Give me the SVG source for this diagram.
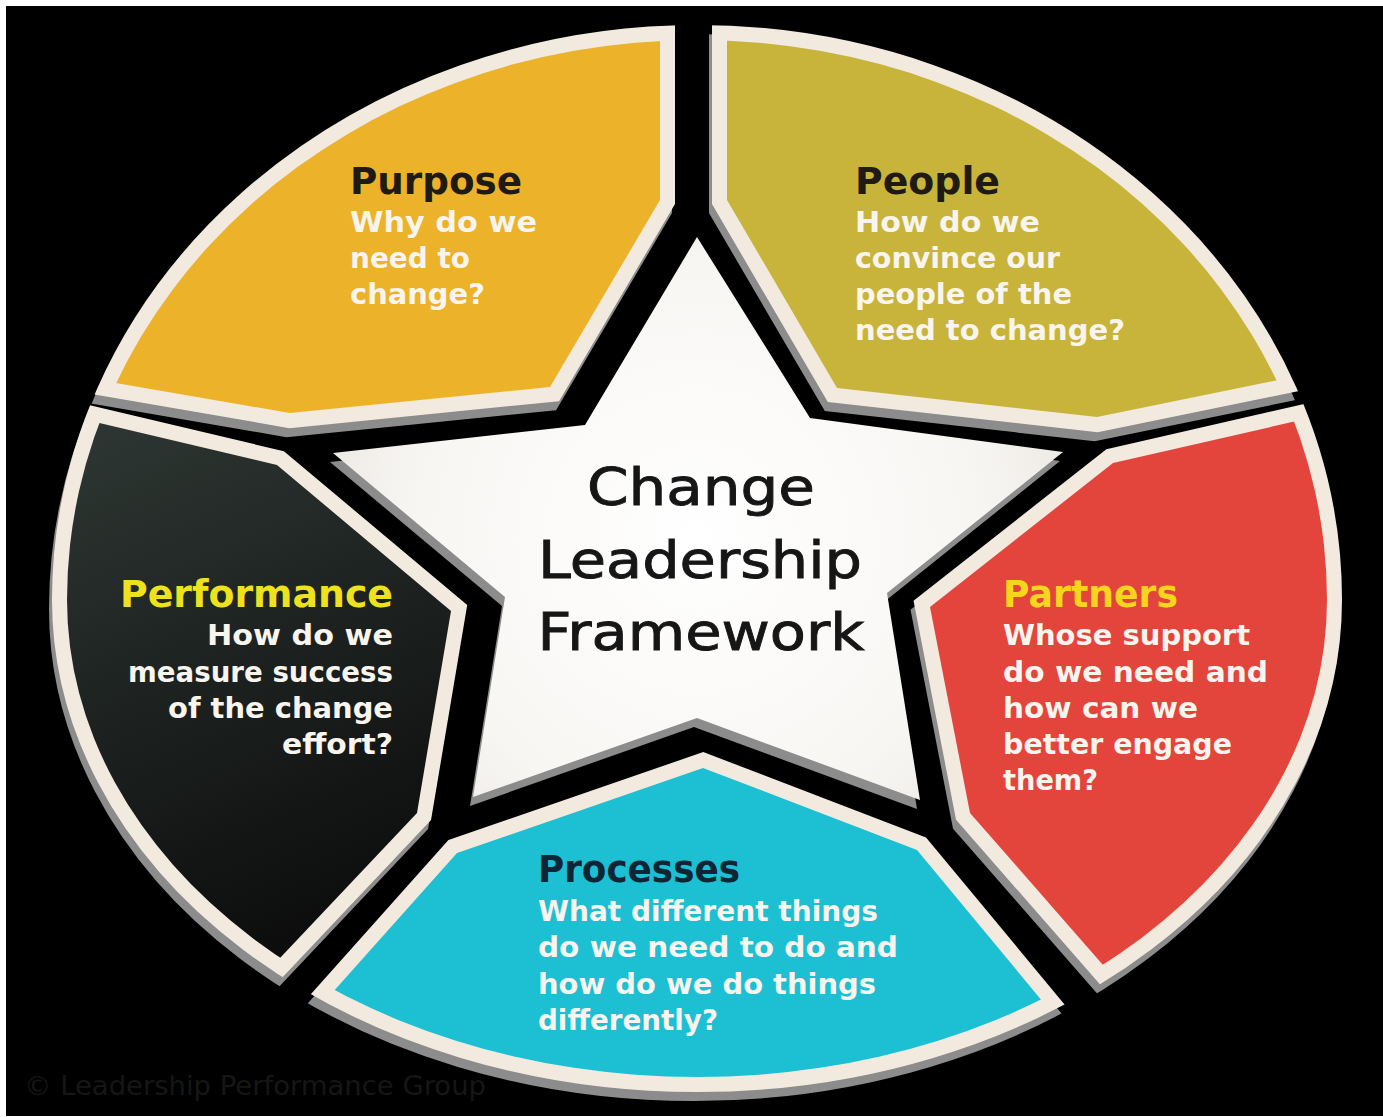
<svg xmlns="http://www.w3.org/2000/svg" width="1383" height="1117" viewBox="0 0 1383 1117">
<defs>
<style>
.t{font-family:"DejaVu Sans","Liberation Sans",Arial,sans-serif;font-weight:bold}
.body{font-size:29px;fill:#F8F4EE}
.title{font-size:37px}
.ctr{font-family:"DejaVu Sans","Liberation Sans",Arial,sans-serif;font-size:52px;fill:#161616;stroke:#161616;stroke-width:0.9;text-anchor:middle}
.cream{fill:#F2EADF;stroke:#F2EADF;stroke-width:30}
.shadow{fill:#8C8C8C;stroke:#8C8C8C;stroke-width:30}
.mb{fill:#fff;stroke:#fff;stroke-width:30;stroke-linejoin:miter}
.mf{fill:#fff}
</style>
<path id="E" d="M67,600 A630,560 0 0 1 1327,600 A630,477 0 0 1 67,600 Z"/>
<radialGradient id="gStar" gradientUnits="userSpaceOnUse" cx="697" cy="540" r="400">
<stop offset="0" stop-color="#FFFFFF"/><stop offset="0.7" stop-color="#F8F6F3"/><stop offset="1" stop-color="#EBE8E3"/>
</radialGradient>
<linearGradient id="gPerf" gradientUnits="userSpaceOnUse" x1="150" y1="420" x2="380" y2="930">
<stop offset="0" stop-color="#2C3531"/><stop offset="1" stop-color="#0B0B0B"/>
</linearGradient>
<mask id="mPurB" maskUnits="userSpaceOnUse" x="-300" y="-300" width="2200" height="1900"><polygon class="mb" points="-70,-100 660,-100 660,200 550,387 290,413 -70,351"/></mask>
<mask id="mPurF" maskUnits="userSpaceOnUse" x="-300" y="-300" width="2200" height="1900"><polygon class="mf" points="-70,-100 660,-100 660,200 550,387 290,413 -70,351"/></mask>
<mask id="mPeoB" maskUnits="userSpaceOnUse" x="-300" y="-300" width="2200" height="1900"><polygon class="mb" points="727,-100 1459,-100 1459,343 1097,417 837,388 727,200"/></mask>
<mask id="mPeoF" maskUnits="userSpaceOnUse" x="-300" y="-300" width="2200" height="1900"><polygon class="mf" points="727,-100 1459,-100 1459,343 1097,417 837,388 727,200"/></mask>
<mask id="mParB" maskUnits="userSpaceOnUse" x="-300" y="-300" width="2200" height="1900"><polygon class="mb" points="1113,463 1463,383 1600,383 1600,1300 1396,1300 970,813 930,607"/></mask>
<mask id="mParF" maskUnits="userSpaceOnUse" x="-300" y="-300" width="2200" height="1900"><polygon class="mf" points="1113,463 1463,383 1600,383 1600,1300 1396,1300 970,813 930,607"/></mask>
<mask id="mProB" maskUnits="userSpaceOnUse" x="-300" y="-300" width="2200" height="1900"><polygon class="mb" points="457,853 703,768 917,850 1290,1300 58,1300"/></mask>
<mask id="mProF" maskUnits="userSpaceOnUse" x="-300" y="-300" width="2200" height="1900"><polygon class="mf" points="457,853 703,768 917,850 1290,1300 58,1300"/></mask>
<mask id="mPerB" maskUnits="userSpaceOnUse" x="-300" y="-300" width="2200" height="1900"><polygon class="mb" points="-200,352 277,465 451,611 417,813 -43,1300 -200,1300"/></mask>
<mask id="mPerF" maskUnits="userSpaceOnUse" x="-300" y="-300" width="2200" height="1900"><polygon class="mf" points="-200,352 277,465 451,611 417,813 -43,1300 -200,1300"/></mask>
</defs>
<rect x="0" y="0" width="1383" height="1117" fill="#FFFFFF"/>
<rect x="6" y="6" width="1377" height="1110" fill="#000000"/>

<g id="purpose">
<g transform="translate(-3,9)"><use href="#E" class="shadow" mask="url(#mPurB)"/></g>
<use href="#E" class="cream" mask="url(#mPurB)"/>
<use href="#E" fill="#ECB22A" mask="url(#mPurF)"/>
<text class="t title" x="350" y="194" fill="#1F1B12" textLength="172" lengthAdjust="spacingAndGlyphs">Purpose</text>
<text class="t body" x="350" y="232" textLength="187" lengthAdjust="spacingAndGlyphs">Why do we</text>
<text class="t body" x="350" y="268" textLength="120" lengthAdjust="spacingAndGlyphs">need to</text>
<text class="t body" x="350" y="304" textLength="135" lengthAdjust="spacingAndGlyphs">change?</text>
</g>

<g id="people">
<g transform="translate(-3,9)"><use href="#E" class="shadow" mask="url(#mPeoB)"/></g>
<use href="#E" class="cream" mask="url(#mPeoB)"/>
<use href="#E" fill="#C8B43B" mask="url(#mPeoF)"/>
<text class="t title" x="855" y="194" fill="#1F1B12" textLength="145" lengthAdjust="spacingAndGlyphs">People</text>
<text class="t body" x="855" y="232" textLength="185" lengthAdjust="spacingAndGlyphs">How do we</text>
<text class="t body" x="855" y="268" textLength="205" lengthAdjust="spacingAndGlyphs">convince our</text>
<text class="t body" x="855" y="304" textLength="217" lengthAdjust="spacingAndGlyphs">people of the</text>
<text class="t body" x="855" y="340" textLength="270" lengthAdjust="spacingAndGlyphs">need to change?</text>
</g>

<g id="partners">
<g transform="translate(-3,9)"><use href="#E" class="shadow" mask="url(#mParB)"/></g>
<use href="#E" class="cream" mask="url(#mParB)"/>
<use href="#E" fill="#E3443B" mask="url(#mParF)"/>
<text class="t title" x="1003" y="607" fill="#F6D51F" textLength="175" lengthAdjust="spacingAndGlyphs">Partners</text>
<text class="t body" x="1003" y="645" textLength="247" lengthAdjust="spacingAndGlyphs">Whose support</text>
<text class="t body" x="1003" y="682" textLength="265" lengthAdjust="spacingAndGlyphs">do we need and</text>
<text class="t body" x="1003" y="718" textLength="195" lengthAdjust="spacingAndGlyphs">how can we</text>
<text class="t body" x="1003" y="754" textLength="229" lengthAdjust="spacingAndGlyphs">better engage</text>
<text class="t body" x="1003" y="790" textLength="95" lengthAdjust="spacingAndGlyphs">them?</text>
</g>

<g id="processes">
<g transform="translate(-3,9)"><use href="#E" class="shadow" mask="url(#mProB)"/></g>
<use href="#E" class="cream" mask="url(#mProB)"/>
<use href="#E" fill="#1DBFD2" mask="url(#mProF)"/>
<text class="t title" x="538" y="882" fill="#0D2636" textLength="202" lengthAdjust="spacingAndGlyphs">Processes</text>
<text class="t body" x="538" y="921" textLength="340" lengthAdjust="spacingAndGlyphs">What different things</text>
<text class="t body" x="538" y="957" textLength="360" lengthAdjust="spacingAndGlyphs">do we need to do and</text>
<text class="t body" x="538" y="994" textLength="338" lengthAdjust="spacingAndGlyphs">how do we do things</text>
<text class="t body" x="538" y="1030" textLength="180" lengthAdjust="spacingAndGlyphs">differently?</text>
</g>

<g id="performance">
<g transform="translate(-3,9)"><use href="#E" class="shadow" mask="url(#mPerB)"/></g>
<use href="#E" class="cream" mask="url(#mPerB)"/>
<use href="#E" fill="url(#gPerf)" mask="url(#mPerF)"/>
<text class="t title" x="393" y="607" fill="#EEE21C" text-anchor="end" textLength="273" lengthAdjust="spacingAndGlyphs">Performance</text>
<text class="t body" x="393" y="645" text-anchor="end" textLength="186" lengthAdjust="spacingAndGlyphs">How do we</text>
<text class="t body" x="393" y="682" text-anchor="end" textLength="265" lengthAdjust="spacingAndGlyphs">measure success</text>
<text class="t body" x="393" y="718" text-anchor="end" textLength="225" lengthAdjust="spacingAndGlyphs">of the change</text>
<text class="t body" x="393" y="754" text-anchor="end" textLength="111" lengthAdjust="spacingAndGlyphs">effort?</text>
</g>

<g id="star">
<polygon transform="translate(-3,9)" fill="#8C8C8C" points="697,237 810,418 1063,452 887,593 920,800 697,718 473,797 505,597 333,453 585,425"/>
<polygon fill="url(#gStar)" points="697,237 810,418 1063,452 887,593 920,800 697,718 473,797 505,597 333,453 585,425"/>
<text class="ctr" x="701" y="505" textLength="228" lengthAdjust="spacingAndGlyphs">Change</text>
<text class="ctr" x="700" y="578" textLength="324" lengthAdjust="spacingAndGlyphs">Leadership</text>
<text class="ctr" x="701" y="650" textLength="327" lengthAdjust="spacingAndGlyphs">Framework</text>
</g>

<text id="copyright" x="24" y="1095" font-family="DejaVu Sans, Liberation Sans, sans-serif" font-size="27" fill="#161616" textLength="462" lengthAdjust="spacingAndGlyphs">© Leadership Performance Group</text>
</svg>
